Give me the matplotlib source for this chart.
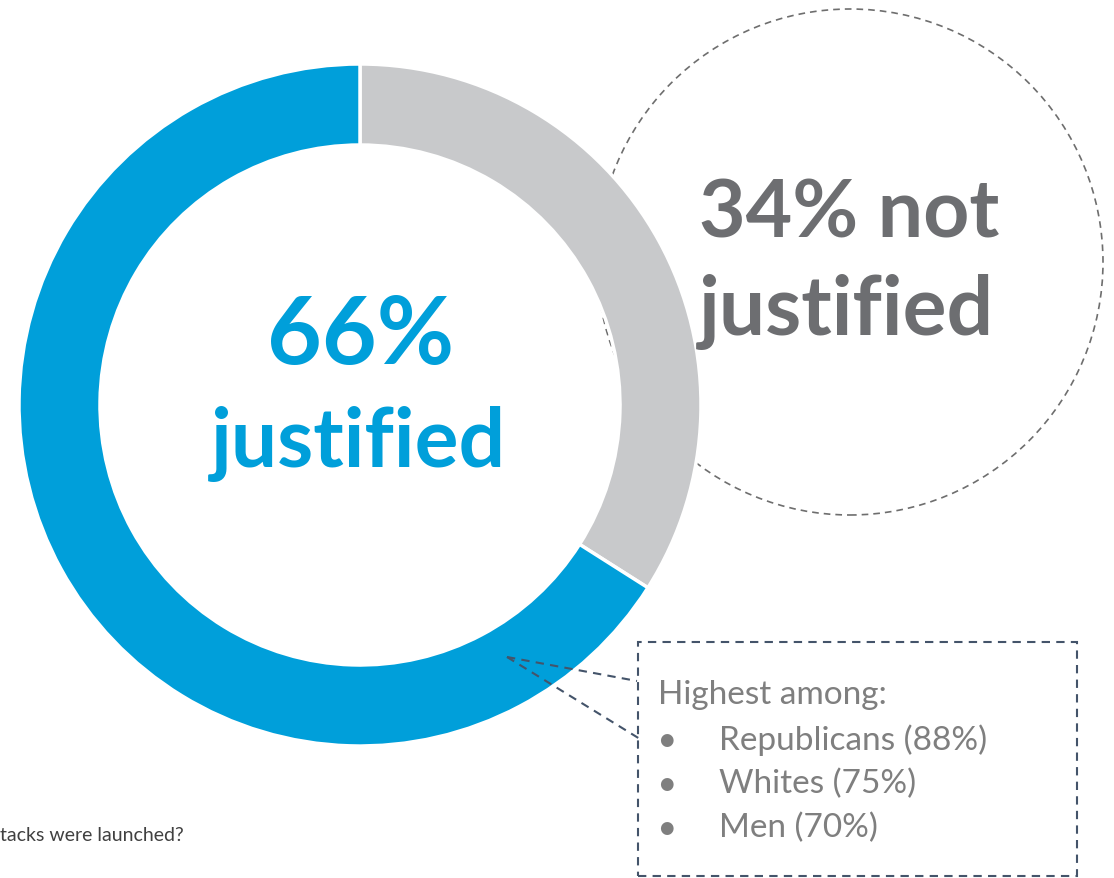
import matplotlib.pyplot as plt
from matplotlib.patches import Circle, Rectangle

# data
labels = ["not justified", "justified"]
shares = [34, 66]
colors = ["#C8C9CB", "#009FDA"]
groups = ["Republicans (88%)", "Whites (75%)", "Men (70%)"]

W, H = 1114, 879
fig = plt.figure(figsize=(W / 100, H / 100), dpi=100)
ax = fig.add_axes([0, 0, 1, 1])

def Y(y):
    return H - y

FONT = "Lato"
grey_txt = "#6D6E71"
line_col = "#44546A"

# dashed circle behind the donut
ax.add_patch(Circle((850, Y(263)), 253, fill=False, ls=(0, (4, 3)),
                    lw=1.2, ec="#6E6E6E", zorder=1))

# donut
wedges, _ = ax.pie(shares, colors=colors, startangle=90, counterclock=False,
                   center=(360, Y(406)), radius=341, frame=True,
                   wedgeprops=dict(width=81, edgecolor="white", linewidth=2.5))
for w in wedges:
    w.set_zorder(2)
ax.set_xlim(0, W)
ax.set_ylim(0, H)
ax.set_aspect("auto")
ax.axis("off")

# centre text
ax.text(361, Y(337), f"{shares[1]}%", color=colors[1], fontsize=68,
        fontweight="bold", family=FONT, ha="center", va="center", zorder=3)
ax.text(358, Y(444), "justified", color=colors[1], fontsize=59,
        fontweight="bold", family=FONT, ha="center", va="center", zorder=3)

# right text
ax.text(849, Y(214), f"{shares[0]}% not", color=grey_txt, fontsize=58,
        fontweight="bold", family=FONT, ha="center", va="center", zorder=3)
ax.text(846, Y(312), "justified", color=grey_txt, fontsize=59,
        fontweight="bold", family=FONT, ha="center", va="center", zorder=3)

# callout box
ax.add_patch(Rectangle((638, Y(877)), 1077 - 638, 877 - 643, fill=False,
                       ls=(0, (4, 3)), lw=1.5, ec=line_col, zorder=3))
ax.plot([507, 637], [Y(658), Y(682)], ls=(0, (4, 3)), lw=1.5, color=line_col, zorder=3)
ax.plot([507, 640], [Y(658), Y(740)], ls=(0, (4, 3)), lw=1.5, color=line_col, zorder=3)

ax.text(658, Y(695), "Highest among:", color="#7F7F7F", fontsize=24,
        family=FONT, ha="left", va="center", zorder=4)
for i, g in enumerate(groups):
    yy = Y(740 + 44 * i)
    ax.text(666, yy, "\u25CF", color="#7F7F7F", fontsize=12, family="DejaVu Sans",
            ha="center", va="center", zorder=4)
    ax.text(719, yy, g, color="#7F7F7F", fontsize=24, family=FONT,
            ha="left", va="center", zorder=4)

# clipped question footnote
ax.text(0, Y(836), "tacks were launched?", color="#404040", fontsize=14,
        family=FONT, ha="left", va="center", zorder=4)

fig.savefig("out.png", dpi=100)
